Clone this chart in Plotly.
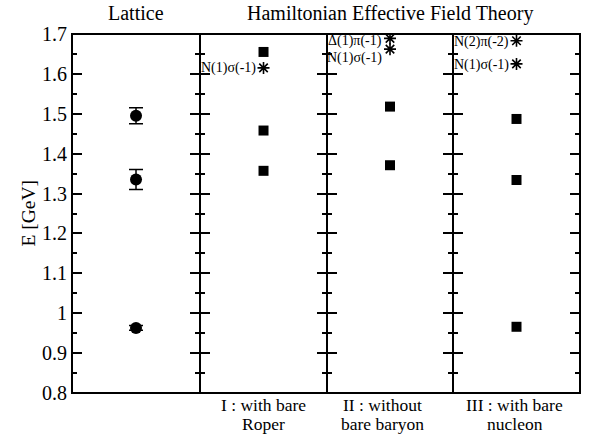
import plotly.graph_objects as go

# ---- data ----
lattice_E = [0.963, 1.335, 1.495]
lattice_err = [0.006, 0.025, 0.02]

heft_I_E = [1.357, 1.458, 1.655]
heft_II_E = [1.371, 1.518]
heft_III_E = [0.966, 1.334, 1.487]

star_I_E = [1.615]
star_I_labels = ["N(1)σ(-1)"]
star_II_E = [1.689, 1.662]
star_II_labels = ["Δ(1)π(-1)", "N(1)σ(-1)"]
star_III_E = [1.683, 1.625]
star_III_labels = ["N(2)π(-2)", "N(1)σ(-1)"]

panel_bottom_line1 = ["I : with bare", "II : without", "III : with bare"]
panel_bottom_line2 = ["Roper", "bare baryon", "nucleon"]

y_range = [0.8, 1.7]
FONT = "Liberation Serif"

fig = go.Figure()

# lattice points
fig.add_trace(go.Scatter(
    x=[0.5] * len(lattice_E), y=lattice_E, mode="markers",
    marker=dict(symbol="circle", size=12, color="black"),
    error_y=dict(type="data", array=lattice_err, visible=True, color="black",
                 thickness=1.5, width=7),
    xaxis="x", yaxis="y", showlegend=False))

sq_sets = [heft_I_E, heft_II_E, heft_III_E]
star_sets = [star_I_E, star_II_E, star_III_E]
label_sets = [star_I_labels, star_II_labels, star_III_labels]
label_yshift = [[0], [-3, -9], [-1, -1]]
bottom_xshift = [0, -8, -2]

for i, (sq, st, lb) in enumerate(zip(sq_sets, star_sets, label_sets)):
    xa = "x%d" % (i + 2)
    ya = "y%d" % (i + 2)
    fig.add_trace(go.Scatter(
        x=[0.5] * len(sq), y=sq, mode="markers",
        marker=dict(symbol="square", size=10, color="black"),
        xaxis=xa, yaxis=ya, showlegend=False))
    fig.add_trace(go.Scatter(
        x=[0.5] * len(st), y=st, mode="markers",
        marker=dict(symbol="asterisk-open", size=10, color="black",
                    line=dict(color="black", width=1.6)),
        xaxis=xa, yaxis=ya, showlegend=False))
    for yv, txt, ys in zip(st, lb, label_yshift[i]):
        fig.add_annotation(x=0.5, y=yv, xref=xa, yref=ya, text=txt,
                           showarrow=False, xanchor="right", yanchor="middle",
                           xshift=-6, yshift=ys,
                           font=dict(family=FONT, size=14, color="black"))
    fig.add_annotation(x=0.5, y=0, xref=xa, yref="paper",
                       text=panel_bottom_line1[i], showarrow=False,
                       xanchor="center", yanchor="middle", yshift=-12,
                       xshift=bottom_xshift[i],
                       font=dict(family=FONT, size=17.5, color="black"))
    fig.add_annotation(x=0.5, y=0, xref=xa, yref="paper",
                       text=panel_bottom_line2[i], showarrow=False,
                       xanchor="center", yanchor="middle", yshift=-31,
                       xshift=bottom_xshift[i],
                       font=dict(family=FONT, size=17.5, color="black"))

domains = [[0, 0.252], [0.252, 0.502], [0.502, 0.75], [0.75, 1.0]]
layout = dict(
    width=600, height=436,
    margin=dict(l=72, r=20, t=34, b=43),
    paper_bgcolor="white", plot_bgcolor="white",
    font=dict(family=FONT, size=19, color="black"),
)
for i, dom in enumerate(domains):
    sfx = "" if i == 0 else str(i + 1)
    layout["xaxis" + sfx] = dict(
        domain=dom, range=[0, 1], showticklabels=False, ticks="",
        showgrid=False, zeroline=False, showline=True, linecolor="black",
        linewidth=1, mirror=True, anchor="y" + sfx, fixedrange=True)
    layout["yaxis" + sfx] = dict(
        range=y_range, dtick=0.1, tick0=0.8, ticks="inside", ticklen=10,
        tickwidth=1.5, tickcolor="black",
        minor=dict(dtick=0.05, ticks="inside", ticklen=5, tickwidth=1.5,
                   tickcolor="black", showgrid=False),
        showticklabels=(i == 0), showgrid=False, zeroline=False,
        showline=True, linecolor="black", linewidth=1, mirror="allticks",
        anchor="x" + sfx, ticklabelstandoff=0, fixedrange=True,
        tickfont=dict(family=FONT, size=20, color="black"))
fig.update_layout(**layout)

# outer frame
fig.add_shape(type="rect", xref="paper", yref="paper", x0=0, x1=1, y0=0, y1=1,
              line=dict(color="black", width=2), layer="above")

fig.add_annotation(x=0.126, y=1, xref="paper", yref="paper", text="Lattice",
                   showarrow=False, xanchor="center", yanchor="middle", yshift=21,
                   font=dict(family=FONT, size=20, color="black"))
fig.add_annotation(x=0.626, y=1, xref="paper", yref="paper",
                   text="Hamiltonian Effective Field Theory",
                   showarrow=False, xanchor="center", yanchor="middle", yshift=21,
                   font=dict(family=FONT, size=20, color="black"))
fig.add_annotation(x=0, y=0.5, xref="paper", yref="paper", text="E [GeV]",
                   showarrow=False, textangle=-90, xanchor="center",
                   yanchor="middle", xshift=-44,
                   font=dict(family=FONT, size=19.5, color="black"))

fig.write_html("out.html", config={"displayModeBar": False},
               post_script="document.body.style.margin='0';"
                           "document.body.style.overflow='hidden';")
